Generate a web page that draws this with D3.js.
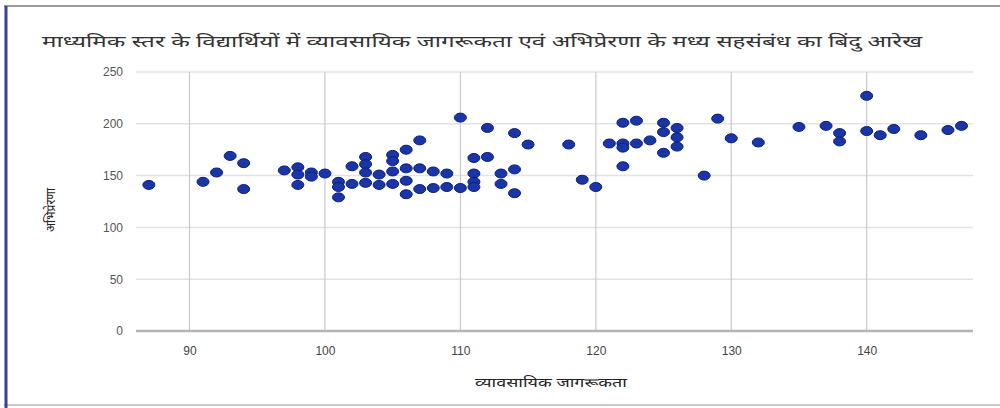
<!DOCTYPE html>
<html><head><meta charset="utf-8">
<script src="https://cdn.jsdelivr.net/npm/d3@7"></script>
<style>
html,body{margin:0;padding:0;background:#fff;}
svg{display:block;}
text{font-family:"Noto Sans Devanagari","Noto Sans","Lohit Devanagari","FreeSans",Arial,sans-serif;}
</style></head>
<body>
<svg id="chart" width="1000" height="408"></svg>
<script>
const chartTitle = "माध्यमिक स्तर के विद्यार्थियों में व्यावसायिक जागरूकता एवं अभिप्रेरणा के मध्य सहसंबंध का बिंदु आरेख";
const xTitle = "व्यावसायिक जागरूकता";
const yTitle = "अभिप्रेरणा";
const xTicks = [90, 100, 110, 120, 130, 140];
const yTicks = [0, 50, 100, 150, 200, 250];
const awareness = [87,91,92,93,94,94,97,98,98,98,99,99,100,101,101,101,102,102,103,103,103,103,104,104,105,105,105,105,106,106,106,106,107,107,107,108,108,109,109,110,110,111,111,111,111,112,112,113,113,114,114,114,115,118,119,120,121,122,122,122,122,123,123,124,125,125,125,126,126,126,128,129,130,132,135,137,138,138,140,140,141,142,144,146,147];
const motivation = [141,144,153,169,162,137,155,158,151,141,153,149,152,144,139,129,159,142,168,161,153,143,151,141,170,164,154,142,175,157,145,132,184,157,137,154,138,152,139,206,138,167,152,144,139,196,168,152,142,191,156,133,180,180,146,139,181,201,181,177,159,203,181,184,201,192,172,196,187,178,150,205,186,182,197,198,191,183,227,193,189,195,189,194,198];

(function(){
const svg = d3.select("#chart");
// frame
svg.append("rect").attr("x",0).attr("y",0).attr("width",1000).attr("height",408).attr("fill","#fff");
svg.append("line").attr("x1",4).attr("x2",1000).attr("y1",6).attr("y2",6).attr("stroke","#9a9a9a").attr("stroke-width",2);
svg.append("line").attr("x1",4).attr("x2",1000).attr("y1",405).attr("y2",405).attr("stroke","#c8c8d0").attr("stroke-width",2);
svg.append("line").attr("x1",6).attr("x2",6).attr("y1",6).attr("y2",408).attr("stroke","#3b3f9a").attr("stroke-width",3);

const pL = 136, pR = 973, pT = 72, pB = 331;
const x = d3.scaleLinear().domain([86.05, 147.85]).range([pL, pR]);
const y = d3.scaleLinear().domain([0, 250]).range([pB, pT]);

svg.append("g").selectAll("line").data(yTicks.filter(d=>d>0)).join("line")
  .attr("x1", pL).attr("x2", pR)
  .attr("y1", d=>y(d)).attr("y2", d=>y(d))
  .attr("stroke", "#e2e2e2").attr("stroke-width", 1.5);
svg.append("g").selectAll("line").data(xTicks).join("line")
  .attr("x1", d=>x(d)).attr("x2", d=>x(d))
  .attr("y1", pT).attr("y2", pB)
  .attr("stroke", "#c9c9c9").attr("stroke-width", 1.2);
svg.append("line").attr("x1", pL).attr("x2", pR).attr("y1", y(0)).attr("y2", y(0))
  .attr("stroke", "#b5b5b5").attr("stroke-width", 2.5);

const yAxis = svg.append("g").attr("transform", `translate(${pL-13},0)`)
  .call(d3.axisLeft(y).tickValues(yTicks).tickSize(0).tickPadding(0));
yAxis.select(".domain").remove();
yAxis.selectAll("text").attr("fill","#555").style("font-size","12px").style("font-family","Arial, 'Liberation Sans', sans-serif");

const xAxis = svg.append("g").attr("transform", `translate(0,${pB+9})`)
  .call(d3.axisBottom(x).tickValues(xTicks).tickSize(0).tickPadding(6));
xAxis.select(".domain").remove();
xAxis.selectAll("text").attr("fill","#444").style("font-size","12px").style("font-family","Arial, 'Liberation Sans', sans-serif");

svg.append("g").selectAll("ellipse").data(awareness.map((a,i)=>[a, motivation[i]])).join("ellipse")
  .attr("cx", d=>x(d[0])).attr("cy", d=>y(d[1]))
  .attr("rx", 6).attr("ry", 4.5)
  .attr("fill", "#1a35a6").attr("stroke", "#0c1e7a").attr("stroke-width", 1);

svg.append("text").attr("x", 42).attr("y", 47).text(chartTitle)
  .attr("fill","#333").style("font-size","16px")
  .attr("textLength", 880).attr("lengthAdjust","spacingAndGlyphs");
svg.append("text").attr("x", 551).attr("y", 387).attr("text-anchor","middle").text(xTitle)
  .attr("fill","#222").style("font-size","12px")
  .attr("textLength", 152).attr("lengthAdjust","spacingAndGlyphs");
svg.append("text").attr("transform","translate(55,210) rotate(-90)").attr("text-anchor","middle").text(yTitle)
  .attr("fill","#222").style("font-size","12px")
  .attr("textLength", 44).attr("lengthAdjust","spacingAndGlyphs");
})();
</script>
</body></html>
